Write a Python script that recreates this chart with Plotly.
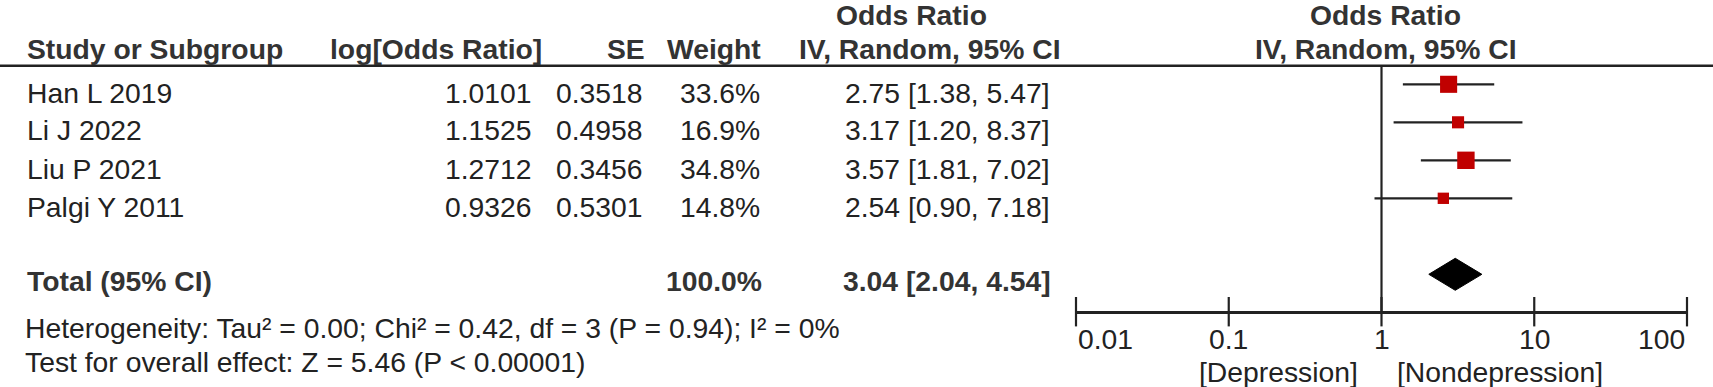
import plotly.graph_objects as go
import math

# ---------------- data ----------------
studies = ["Han L 2019", "Li J 2022", "Liu P 2021", "Palgi Y 2011"]
log_or = [1.0101, 1.1525, 1.2712, 0.9326]
se = [0.3518, 0.4958, 0.3456, 0.5301]
weight = [33.6, 16.9, 34.8, 14.8]
or_est = [2.75, 3.17, 3.57, 2.54]
ci_lo = [1.38, 1.20, 1.81, 0.90]
ci_hi = [5.47, 8.37, 7.02, 7.18]

total_label = "Total (95% CI)"
total_weight = 100.0
total_or = 3.04
total_lo = 2.04
total_hi = 4.54

heterogeneity = "Heterogeneity: Tau² = 0.00; Chi² = 0.42, df = 3 (P = 0.94); I² = 0%"
overall = "Test for overall effect: Z = 5.46 (P < 0.00001)"

headers = ["Study or Subgroup", "log[Odds Ratio]", "SE", "Weight", "IV, Random, 95% CI"]
group_header = "Odds Ratio"
tick_vals = [0.01, 0.1, 1, 10, 100]
tick_text = ["0.01", "0.1", "1", "10", "100"]
favours = ["[Depression]", "[Nondepression]"]

# ---------------- layout constants ----------------
W, H = 1713, 387
FONT = "Arial, Liberation Sans, sans-serif"
FS = 28.3
TXT = "#222222"
HDR = "#333333"
RED = "#C00000"

ROW0 = 84.3      # pixel of first marker row
ROWH = 38.0      # row pitch in pixels
TEXT_DY = 8.2    # text sits a bit lower than the markers
AXIS_PX = 311.7
HLINE_PX = 65.7
TOTAL_ROW = 5

def row_of(px):
    return (px - ROW0) / ROWH

def paper_y(px):
    return 1 - px / H

def paper_x(px):
    return px / W

fig = go.Figure()

# CI lines and squares
for i in range(len(studies)):
    fig.add_trace(go.Scatter(
        x=[ci_lo[i], ci_hi[i]], y=[i, i], mode="lines",
        line=dict(color=TXT, width=2.2), showlegend=False, hoverinfo="skip"))
fig.add_trace(go.Scatter(
    x=or_est, y=list(range(len(studies))), mode="markers",
    marker=dict(symbol="square", color=RED, opacity=1,
                size=[2.95 * math.sqrt(w) for w in weight],
                line=dict(width=0)),
    showlegend=False, hoverinfo="skip"))

# Diamond for the total
half_h = 16 / ROWH
fig.add_trace(go.Scatter(
    x=[total_lo, total_or, total_hi, total_or, total_lo],
    y=[TOTAL_ROW, TOTAL_ROW - half_h, TOTAL_ROW, TOTAL_ROW + half_h, TOTAL_ROW],
    mode="lines", fill="toself", fillcolor="black",
    line=dict(color="black", width=1), showlegend=False, hoverinfo="skip"))

# tick marks crossing the axis
fig.add_trace(go.Scatter(
    x=tick_vals, y=[row_of(AXIS_PX)] * len(tick_vals), mode="markers",
    marker=dict(symbol="line-ns", size=21, line=dict(color=TXT, width=2.2)),
    cliponaxis=False, showlegend=False, hoverinfo="skip"))

# ---------------- axes ----------------
x0_px, x1_px = 1076, 1687
fig.update_xaxes(
    type="log", range=[-2, 2], domain=[paper_x(x0_px), paper_x(x1_px)],
    anchor="free", position=paper_y(AXIS_PX), automargin=False,
    showline=True, linecolor=TXT, linewidth=2.6,
    tickvals=tick_vals, showticklabels=False, ticks="",
    showgrid=False, zeroline=False, fixedrange=True)
fig.update_yaxes(
    range=[row_of(H), row_of(0)], domain=[0, 1], automargin=False,
    visible=False, showgrid=False, zeroline=False, fixedrange=True)

shapes = []
# header rule
shapes.append(dict(type="line", xref="paper", yref="paper", x0=0, x1=1,
                   y0=paper_y(HLINE_PX), y1=paper_y(HLINE_PX),
                   line=dict(color=TXT, width=2.6)))
# line of no effect
shapes.append(dict(type="line", xref="x", yref="paper", x0=1, x1=1,
                   y0=paper_y(HLINE_PX), y1=paper_y(AXIS_PX),
                   line=dict(color=TXT, width=2.2)))

annotations = []

def txt(s, px_x, px_y, anchor="left", bold=False, color=TXT, xref="paper", xval=None, xshift=0):
    annotations.append(dict(
        text=f"<b>{s}</b>" if bold else s,
        xref=xref, yref="paper",
        x=paper_x(px_x) if xval is None else xval, y=paper_y(px_y),
        xanchor=anchor, yanchor="middle", showarrow=False, xshift=xshift,
        font=dict(family=FONT, size=FS, color=color)))

# headers
H1, H2 = 14.5, 48.5
txt(group_header, 911, H1, "center", True, HDR)
txt(group_header, 1385, H1, "center", True, HDR)
txt(headers[0], 25, H2, "left", True, HDR)
txt(headers[1], 544, H2, "right", True, HDR)
txt(headers[2], 647, H2, "right", True, HDR)
txt(headers[3], 763, H2, "right", True, HDR)
txt(headers[4], 1063, H2, "right", True, HDR)
txt(headers[4], 1386, H2, "center", True, HDR)

# study rows
for i in range(len(studies)):
    py = ROW0 + ROWH * i + TEXT_DY
    txt(studies[i], 25, py, "left")
    txt(f"{log_or[i]:.4f}", 534, py, "right")
    txt(f"{se[i]:.4f}", 645, py, "right")
    txt(f"{weight[i]:.1f}%", 762, py, "right")
    txt(f"{or_est[i]:.2f} [{ci_lo[i]:.2f}, {ci_hi[i]:.2f}]", 1052, py, "right")

# total row
pyt = ROW0 + ROWH * TOTAL_ROW + TEXT_DY - 1.5
txt(total_label, 25, pyt, "left", True, HDR)
txt(f"{total_weight:.1f}%", 764, pyt, "right", True, HDR)
txt(f"{total_or:.2f} [{total_lo:.2f}, {total_hi:.2f}]", 1053, pyt, "right", True, HDR)

# footnotes
txt(heterogeneity, 23, 328, "left")
txt(overall, 23, 362, "left")

# tick labels (end labels kept inside the axis span, as in the reference)
for k, (tv, tt) in enumerate(zip(tick_vals, tick_text)):
    anc = "left" if k == 0 else ("right" if k == len(tick_vals) - 1 else "center")
    txt(tt, 0, 339, anc, xref="x", xval=math.log10(tv))

# favours labels
txt(favours[0], 0, 372, "right", xref="x", xval=0, xshift=-22)
txt(favours[1], 0, 372, "left", xref="x", xval=0, xshift=13)

fig.update_layout(
    width=W, height=H, margin=dict(l=0, r=0, t=0, b=0, pad=0, autoexpand=False),
    paper_bgcolor="white", plot_bgcolor="white",
    shapes=shapes, annotations=annotations, showlegend=False)

fig.write_html(
    "out.html",
    config={"responsive": False, "displayModeBar": False},
    post_script="document.body.style.margin='0';document.body.style.overflow='hidden';",
)
